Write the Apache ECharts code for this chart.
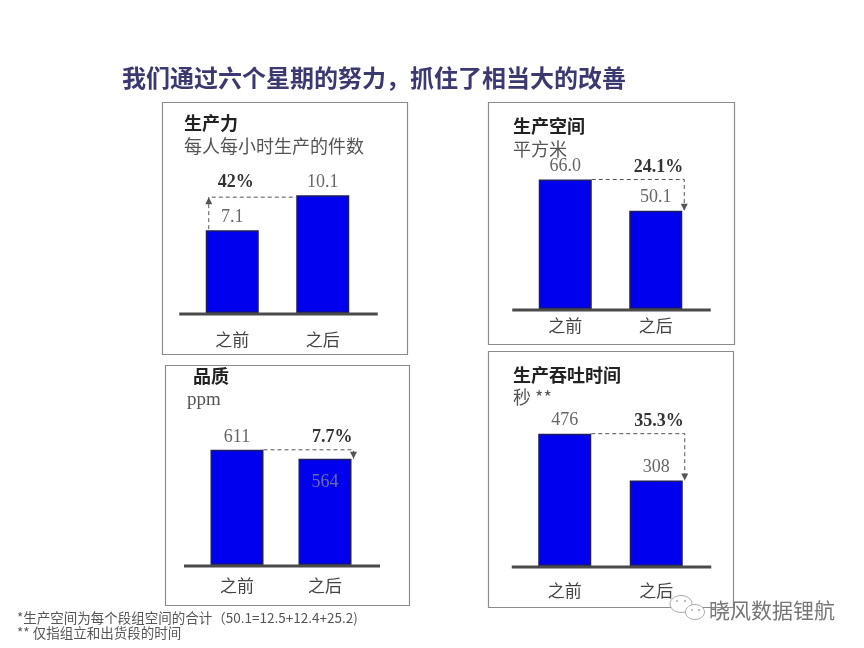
<!DOCTYPE html>
<html>
<head>
<meta charset="utf-8">
<script src="https://cdn.jsdelivr.net/npm/echarts@6/dist/echarts.min.js"></script>
<style>
html, body { margin: 0; background: #fff; }
#main { width: 864px; height: 648px; }
</style>
</head>
<body>
<div id="main"></div>
<script>
// data
var categories = ['之前', '之后'];
var panelTitles = ['生产力', '生产空间', '品质', '生产吞吐时间'];
var panelUnits = ['每人每小时生产的件数', '平方米', 'ppm', '秒 **'];
var productivity = [7.1, 10.1];
var space = [66.0, 50.1];
var quality = [611, 564];
var throughput = [476, 308];
var changeLabels = ['42%', '24.1%', '7.7%', '35.3%'];
var decimals = [1, 1, 0, 0];
var footnotes = [
    '*生产空间为每个段组空间的合计（50.1=12.5+12.4+25.2)',
    '** 仅指组立和出货段的时间'
];

var values = [productivity, space, quality, throughput];

var CJK = '"Noto Sans CJK SC", sans-serif';
var SERIF = '"Liberation Serif", serif';
var BAR_W = 53;

// layout of the four boxes
var panels = [
    { box: [162, 102, 245, 252], grid: { left: 187, top: 173, width: 181, height: 140 }, max: 12, margin: 18,
      title: [184, 123], unit: [184, 146] },
    { box: [488, 102, 246, 242], grid: { left: 520, top: 152, width: 181, height: 157 }, max: 80, margin: 8,
      title: [513, 126], unit: [513, 149] },
    { box: [165, 365, 244, 240], grid: { left: 193, top: 433, width: 176, height: 132 }, max: 700, margin: 12,
      title: [193, 376], unit: [187, 400] },
    { box: [488, 351, 245, 256], grid: { left: 519, top: 427, width: 183, height: 139 }, max: 500, margin: 16,
      title: [513, 375], unit: [513, 397] }
];

function connector(idx) {
    var v = values[idx];
    return {
        type: 'custom',
        xAxisIndex: idx,
        yAxisIndex: idx,
        z: 5,
        silent: true,
        data: [[0, v[0], 1, v[1]]],
        encode: { x: [0, 2], y: [1, 3] },
        renderItem: function (params, api) {
            var a = api.coord([api.value(0), api.value(1)]);
            var b = api.coord([api.value(2), api.value(3)]);
            var base = api.coord([0, 0])[1];
            var half = BAR_W / 2;
            var dash = { stroke: '#555', lineWidth: 1, lineDash: [4, 3], fill: null };
            var font = { fill: '#333', fontSize: 18, fontWeight: 'bold', fontFamily: SERIF };
            var kids = [{
                type: 'line',
                shape: { x1: a[0] - 53, y1: base + 1, x2: b[0] + 55, y2: base + 1 },
                style: { stroke: '#4a4a4a', lineWidth: 3 }
            }];
            var vx;
            if (api.value(3) > api.value(1)) {
                vx = a[0] - half + 3;
                kids.push({ type: 'polyline', shape: { points: [[vx, a[1] - 1], [vx, b[1] + 2], [b[0] - half, b[1] + 2]] }, style: dash });
                kids.push({ type: 'polygon', shape: { points: [[vx - 3.5, b[1] + 9], [vx + 3.5, b[1] + 9], [vx, b[1] + 2]] }, style: { fill: '#555' } });
                kids.push({ type: 'text', style: Object.assign({ text: changeLabels[idx], x: vx + 9, y: b[1] - 4, align: 'left', verticalAlign: 'bottom' }, font) });
            } else {
                vx = b[0] + half + 2;
                kids.push({ type: 'polyline', shape: { points: [[a[0] + half, a[1]], [vx, a[1]], [vx, b[1]]] }, style: dash });
                kids.push({ type: 'polygon', shape: { points: [[vx - 3.5, b[1] - 7], [vx + 3.5, b[1] - 7], [vx, b[1]]] }, style: { fill: '#555' } });
                kids.push({ type: 'text', style: Object.assign({ text: changeLabels[idx], x: vx - 1, y: a[1] - 3, align: 'right', verticalAlign: 'bottom' }, font) });
            }
            return { type: 'group', children: kids };
        }
    };
}

var grids = [], xAxes = [], yAxes = [], series = [];
var graphics = [];

panels.forEach(function (p, i) {
    grids.push(p.grid);
    xAxes.push({
        type: 'category', gridIndex: i, data: categories,
        axisLine: { show: false }, axisTick: { show: false },
        axisLabel: { margin: p.margin, fontSize: 17, color: '#444', fontFamily: CJK }
    });
    yAxes.push({ type: 'value', gridIndex: i, min: 0, max: p.max, show: false, splitLine: { show: false } });
    series.push({
        type: 'bar', xAxisIndex: i, yAxisIndex: i, barWidth: BAR_W,
        itemStyle: { color: '#0000ee', borderColor: '#1c1c5e', borderWidth: 1.5 },
        label: {
            show: true, position: 'top', distance: 4,
            fontSize: 18, color: '#666', fontFamily: SERIF,
            formatter: function (d) { return d.value.toFixed(decimals[i]); }
        },
        data: values[i].map(function (v, k) {
            // the 564 in 品质 sits inside its bar
            if (i === 2 && k === 1) {
                return { value: v, label: { position: 'insideTop', distance: 15, color: '#6a6ab4' } };
            }
            return v;
        })
    });
    series.push(connector(i));

    graphics.push({
        type: 'rect', silent: true,
        shape: { x: p.box[0] + 0.5, y: p.box[1] + 0.5, width: p.box[2], height: p.box[3] },
        style: { fill: null, stroke: '#8c8c8c', lineWidth: 1.2 }
    });
    graphics.push({
        type: 'text', x: p.title[0], y: p.title[1],
        style: { text: panelTitles[i], fontSize: 18, fontWeight: 'bold', fill: '#222', fontFamily: CJK, verticalAlign: 'middle' }
    });
    graphics.push({
        type: 'text', x: p.unit[0], y: p.unit[1],
        style: { text: panelUnits[i], fontSize: i === 2 ? 19 : 18, fill: '#555', fontFamily: i === 2 ? SERIF : CJK, verticalAlign: 'middle' }
    });
});

footnotes.forEach(function (t, k) {
    graphics.push({
        type: 'text', x: 17, y: 618 + k * 15,
        style: { text: t, fontSize: 13.5, fill: '#555', fontFamily: CJK, verticalAlign: 'middle' }
    });
});

// watermark: little chat bubbles + name
graphics.push({ type: 'ellipse', shape: { cx: 681, cy: 604, rx: 11, ry: 8.5 }, style: { fill: '#fff', stroke: '#aaa', lineWidth: 1 }, z: 20 });
graphics.push({ type: 'ellipse', shape: { cx: 695, cy: 612, rx: 9.5, ry: 7.5 }, style: { fill: '#fff', stroke: '#aaa', lineWidth: 1 }, z: 21 });
graphics.push({ type: 'circle', shape: { cx: 677, cy: 601, r: 1 }, style: { fill: '#aaa' }, z: 22 });
graphics.push({ type: 'circle', shape: { cx: 685, cy: 601, r: 1 }, style: { fill: '#aaa' }, z: 22 });
graphics.push({ type: 'circle', shape: { cx: 692, cy: 610, r: 1 }, style: { fill: '#aaa' }, z: 22 });
graphics.push({ type: 'circle', shape: { cx: 699, cy: 610, r: 1 }, style: { fill: '#aaa' }, z: 22 });
graphics.push({
    type: 'text', x: 709, y: 610, z: 22,
    style: { text: '晓风数据锂航', fontSize: 21, fill: '#777', fontFamily: CJK, verticalAlign: 'middle' }
});

var chart = echarts.init(document.getElementById('main'));
chart.setOption({
    backgroundColor: '#fff',
    animation: false,
    title: {
        text: '我们通过六个星期的努力，抓住了相当大的改善',
        left: 117, top: 61,
        textStyle: { fontSize: 24, fontWeight: 'bold', color: '#3b3970', fontFamily: CJK }
    },
    grid: grids,
    xAxis: xAxes,
    yAxis: yAxes,
    series: series,
    graphic: graphics
});
</script>
</body>
</html>
